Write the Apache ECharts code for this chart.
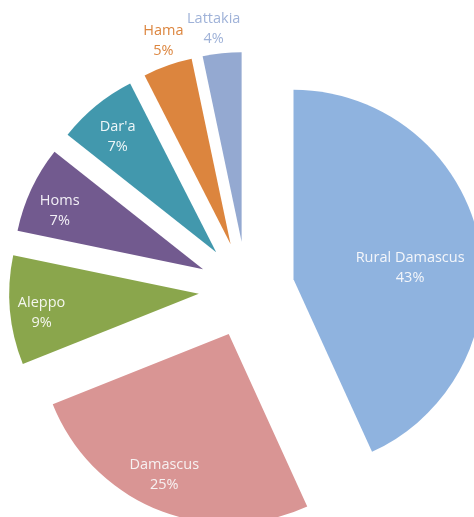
<!DOCTYPE html>
<html><head><meta charset="utf-8">
<script src="https://cdn.jsdelivr.net/npm/echarts@6/dist/echarts.min.js"></script>
<style>html,body{margin:0;padding:0;background:#fff}#c{width:474px;height:517px}</style>
</head><body><div id="c"></div>
<script>
// Data (slice shares estimated from the drawn angles; label texts as printed)
const categories = ['Rural Damascus', 'Damascus', 'Aleppo', 'Homs', "Dar'a", 'Hama', 'Lattakia'];
const shares = [43.2, 25.75, 9.3, 7.4, 6.85, 4.2, 3.3];
const shareLabels = ['43%', '25%', '9%', '7%', '7%', '5%', '4%'];

// Styles
const colors = ['#8fb3df', '#d99594', '#8aa64c', '#725a8f', '#4298ad', '#dc853e', '#94a9d1'];
const labelColors = ['#f4f6fa', '#f7f2f2', '#f4f6ee', '#f2eff6', '#eef6f8', '#dc853e', '#9fb2d8'];
// label placement: angular nudge (deg, clockwise) from slice bisector, and distance from pie centre
const labelNudge = [4.54, 2.13, -1.36, -2.22, -0.97, 0.94, -1.26];
const labelRadius = [162, 199.5, 203.3, 199.7, 196.5, 259, 259.6];

const center = [246.6, 289.5];
const radius = 189.5;
const explode = 48;

const base = {
  type: 'pie', center: center, clockwise: true, silent: true,
  animation: false, avoidLabelOverlap: false, emphasis: { disabled: true }
};
const series = [Object.assign({}, base, {
  startAngle: 90,
  selectedMode: 'multiple', selectedOffset: explode,
  radius: [0, radius],
  label: { show: false }, labelLine: { show: false },
  data: categories.map((n, i) => ({ name: n, value: shares[i], selected: true, itemStyle: { color: colors[i] } }))
})];
categories.forEach((n, i) => {
  series.push(Object.assign({}, base, {
    startAngle: 90 - labelNudge[i],
    selectedMode: false,
    radius: [labelRadius[i] - 1, labelRadius[i] + 1],
    itemStyle: { color: 'rgba(0,0,0,0)' },
    label: { show: false }, labelLine: { show: false },
    data: categories.map((m, j) => ({
      name: m, value: shares[j],
      label: j === i ? {
        show: true, position: 'inside',
        formatter: categories[i] + '\n' + shareLabels[i],
        color: labelColors[i], fontFamily: 'Open Sans', fontSize: 14.5, lineHeight: 20,
        textBorderWidth: 0
      } : { show: false }
    }))
  }));
});

const chart = echarts.init(document.getElementById('c'), null, { renderer: 'canvas' });
chart.setOption({ backgroundColor: '#ffffff', animation: false, series: series });
</script>
</body></html>
